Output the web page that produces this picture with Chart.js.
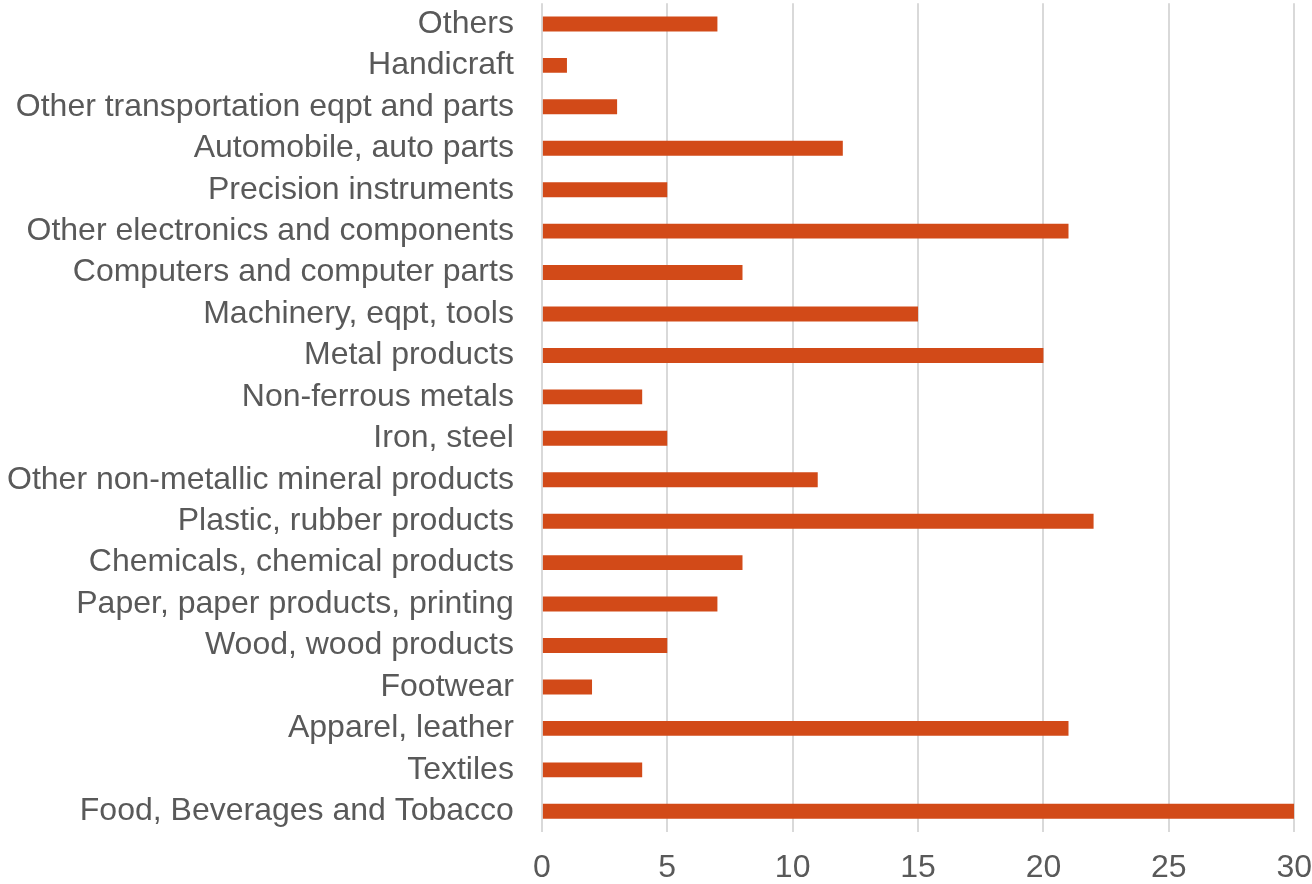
<!DOCTYPE html>
<html>
<head>
<meta charset="utf-8">
<script src="https://cdn.jsdelivr.net/npm/chart.js@4/dist/chart.umd.min.js"></script>
<style>
  html, body { margin: 0; padding: 0; background: #fff; }
  #wrap { width: 1312px; height: 884px; }
</style>
</head>
<body>
<div id="wrap"><canvas id="canvas"></canvas></div>
<script>
var categorias = [
    "Others",
    "Handicraft",
    "Other transportation eqpt and parts",
    "Automobile, auto parts",
    "Precision instruments",
    "Other electronics and components",
    "Computers and computer parts",
    "Machinery, eqpt, tools",
    "Metal products",
    "Non-ferrous metals",
    "Iron, steel",
    "Other non-metallic mineral products",
    "Plastic, rubber products",
    "Chemicals, chemical products",
    "Paper, paper products, printing",
    "Wood, wood products",
    "Footwear",
    "Apparel, leather",
    "Textiles",
    "Food, Beverages and Tobacco"
];
var valores = [7, 1, 3, 12, 5, 21, 8, 15, 20, 4, 5, 11, 22, 8, 7, 5, 2, 21, 4, 30];
var ticksX = [0, 5, 10, 15, 20, 25, 30];

var corBarra = '#D24A18';
var corTexto = '#595959';
var familia = 'Liberation Sans, Arial, sans-serif';

var config = {
    type: 'bar',
    data: {
        labels: categorias,
        datasets: [{
            data: valores,
            backgroundColor: corBarra,
            borderWidth: 0,
            barPercentage: 0.9,
            categoryPercentage: 0.4
        }]
    },
    options: {
        indexAxis: 'y',
        responsive: true,
        maintainAspectRatio: false,
        animation: false,
        layout: { padding: { top: 0, right: 0, left: 7, bottom: 0 } },
        plugins: {
            legend: { display: false },
            tooltip: { enabled: false }
        },
        scales: {
            x: {
                min: ticksX[0],
                max: ticksX[ticksX.length - 1],
                afterBuildTicks: function (axis) {
                    axis.ticks = ticksX.map(function (v) { return { value: v }; });
                },
                // tick invisivel no lugar do padding (padding conta em dobro na altura)
                grid: { color: '#d9d9d9', lineWidth: 2, drawTicks: true, tickLength: 20, tickColor: 'rgba(0,0,0,0)' },
                border: { display: false },
                ticks: { color: corTexto, font: { family: familia, size: 32, lineHeight: 1.0 }, padding: 0 }
            },
            y: {
                // grid escondido, mas o tickLength serve de espaço entre rótulo e barra
                grid: { display: false, drawTicks: true, tickLength: 28 },
                border: { display: false },
                ticks: { color: corTexto, font: { family: familia, size: 32, lineHeight: 0.2 }, padding: 0, autoSkip: false }
            }
        }
    }
};

var ctx = document.getElementById('canvas').getContext('2d');
window.myBar = new Chart(ctx, config);
</script>
</body>
</html>
